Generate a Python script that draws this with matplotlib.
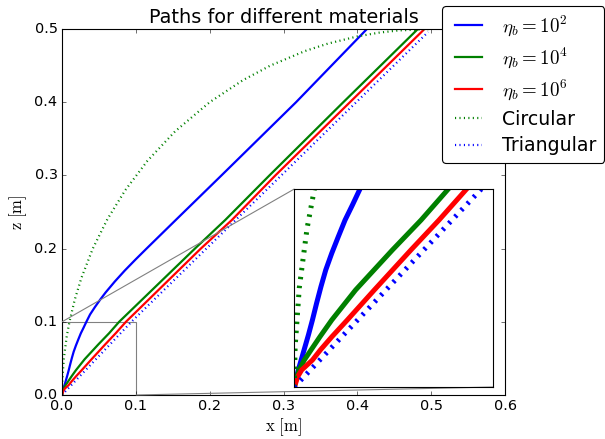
import matplotlib
matplotlib.use('Agg')
import matplotlib.pyplot as plt
from mpl_toolkits.axes_grid1.inset_locator import mark_inset

plt.style.use('classic')
plt.rcParams['lines.scale_dashes'] = False
plt.rcParams['xtick.labelsize'] = 13
plt.rcParams['ytick.labelsize'] = 13

# PATHS (x, z in metres)
x_eta2 = [0, 0.0004, 0.0020, 0.0037, 0.0054, 0.0071, 0.0091, 0.0112, 0.0134,
          0.0158, 0.0188, 0.0221, 0.0255, 0.0292, 0.033,
          0.038, 0.0445, 0.0515, 0.059, 0.0715, 0.085, 0.0995, 0.1145,
          0.154, 0.216, 0.317, 0.413]
z_eta2 = [0, 0.0019, 0.0086, 0.0145, 0.0204, 0.0263, 0.0338, 0.0423, 0.0507,
          0.0591, 0.0675, 0.0759, 0.0843, 0.0919, 0.1,
          0.11, 0.12, 0.13, 0.14, 0.155, 0.17, 0.185, 0.2,
          0.239, 0.3, 0.4, 0.5]

x_eta4 = [0, 0.0007, 0.0024, 0.0050, 0.0084, 0.0129, 0.0188, 0.0308, 0.0493,
          0.0637, 0.0774, 0.18, 0.221, 0.281, 0.381, 0.482]
z_eta4 = [0, 0.0035, 0.0086, 0.0136, 0.0187, 0.0254, 0.0338, 0.0490, 0.0692,
          0.0843, 0.1, 0.2, 0.239, 0.3, 0.4, 0.5]

x_eta6 = [0, 0.0004, 0.0017, 0.0037, 0.0091, 0.0131, 0.0189, 0.0266, 0.0402,
          0.0586, 0.0727, 0.0866, 0.188, 0.23, 0.289, 0.39, 0.491]
z_eta6 = [0, 0.0010, 0.0052, 0.0086, 0.0136, 0.0187, 0.0254, 0.0338, 0.0490,
          0.0692, 0.0843, 0.1, 0.2, 0.239, 0.3, 0.4, 0.5]

x_circ = [0, 0.0004, 0.0025, 0.0064, 0.0101, 0.0172, 0.0263, 0.0417, 0.0614,
          0.0858, 0.1158, 0.153, 0.2, 0.2449, 0.2821, 0.3294, 0.36, 0.4005,
          0.4295, 0.4553, 0.5]
z_circ = [0, 0.02, 0.05, 0.08, 0.1, 0.13, 0.16, 0.2, 0.24, 0.28, 0.32, 0.36,
          0.4, 0.43, 0.45, 0.47, 0.48, 0.49, 0.495, 0.498, 0.5]

x_tri = [0, 0.094, 0.496]
z_tri = [0, 0.1, 0.496]

labels = [r'$\eta_b = 10^2$', r'$\eta_b = 10^4$', r'$\eta_b = 10^6$',
          'Circular', 'Triangular']

W, H = 605, 439
fig = plt.figure(figsize=(W / 80.0, H / 80.0), dpi=80)
ax = fig.add_axes([62.0 / W, 44.0 / H, 443.0 / W, 366.0 / H])


def draw(a, lw, dots):
    a.plot(x_eta2, z_eta2, 'b-', lw=lw, label=labels[0])
    a.plot(x_eta4, z_eta4, 'g-', lw=lw, label=labels[1])
    a.plot(x_eta6, z_eta6, 'r-', lw=lw, label=labels[2])
    a.plot(x_circ, z_circ, 'g', lw=dots[0], dashes=dots[1:], label=labels[3])
    a.plot(x_tri, z_tri, 'b', lw=dots[0], dashes=dots[1:], label=labels[4])


draw(ax, 2, (2, 1, 3))
ax.set_xlim(0, 0.6)
ax.set_ylim(0, 0.5)
ax.set_xlabel(r'$\mathrm{x\ [m]}$', fontsize=15, labelpad=3)
ax.set_ylabel(r'$\mathrm{z\ [m]}$', fontsize=15)
ax.set_title('Paths for different materials', fontsize=17.3)
ax.legend(loc='upper left', bbox_to_anchor=(442.0 / W, 433.0 / H),
          bbox_transform=fig.transFigure, borderaxespad=0, fancybox=True,
          fontsize=17, labelspacing=0.4)

#%% ZOOM ON THE ORIGIN
axins = fig.add_axes([294.3 / W, 52.0 / H, 199.0 / W, 198.0 / H])
draw(axins, 4.5, (4.5, 2.2, 5.9))
axins.set_xlim(0, 0.1)
axins.set_ylim(0, 0.1)
axins.set_xticks([])
axins.set_yticks([])
mark_inset(ax, axins, loc1=2, loc2=4, fc='none', ec='0.5')

fig.savefig('out.png', dpi=80)
